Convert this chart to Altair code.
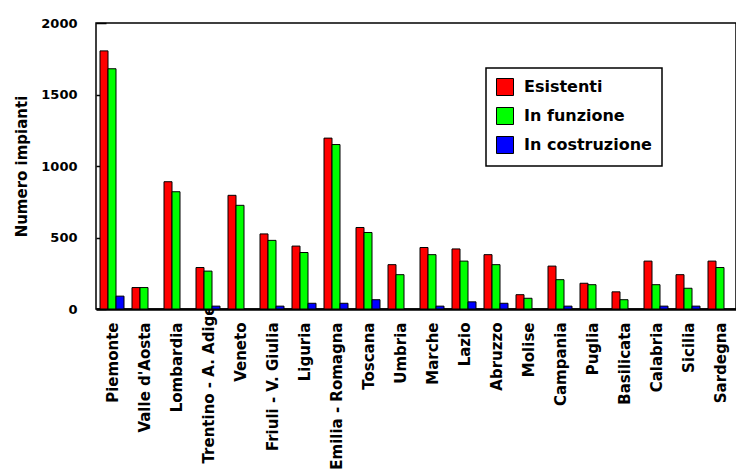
import altair as alt
import pandas as pd

regions = ["Piemonte", "Valle d'Aosta", "Lombardia", "Trentino - A. Adige", "Veneto",
           "Friuli - V. Giulia", "Liguria", "Emilia - Romagna", "Toscana", "Umbria",
           "Marche", "Lazio", "Abruzzo", "Molise", "Campania", "Puglia", "Basilicata",
           "Calabria", "Sicilia", "Sardegna"]
series = ["Esistenti", "In funzione", "In costruzione"]
colors = ["#FF0000", "#00FF00", "#0000FF"]

esistenti = [1805, 150, 890, 290, 795, 525, 440, 1195, 570, 310,
             430, 420, 380, 100, 300, 180, 120, 335, 240, 335]
in_funzione = [1680, 150, 820, 265, 725, 480, 395, 1150, 535, 240,
               380, 335, 310, 75, 205, 170, 65, 170, 145, 290]
in_costruzione = [90, 0, 0, 20, 0, 20, 40, 40, 65, 0,
                  20, 50, 40, 0, 20, 0, 0, 20, 20, 0]

y_ticks = [0, 500, 1000, 1500, 2000]

rows = []
for s, vals in zip(series, [esistenti, in_funzione, in_costruzione]):
    for r, v in zip(regions, vals):
        rows.append({"Regione": r, "Serie": s, "Valore": v})
df = pd.DataFrame(rows)

FONT = "DejaVu Sans"

chart = alt.Chart(df).transform_filter(
    "datum.Valore > 0"
).mark_bar(stroke="black", strokeWidth=1, opacity=1).encode(
    x=alt.X("Regione:N", sort=regions, title=None,
            scale=alt.Scale(domain=regions, paddingInner=0.25, paddingOuter=0.125),
            axis=alt.Axis(labelAngle=-90, labelAlign="right", labelBaseline="middle",
                          labelPadding=alt.expr("datum.value == 'Trentino - A. Adige' ? -4 : 13"),
                          ticks=False, domainWidth=2.5, domainColor="black",
                          labelFont=FONT, labelFontWeight="bold", labelFontSize=15,
                          labelColor="black", labelOffset=1, labelLimit=300)),
    xOffset=alt.XOffset("Serie:N", sort=series, scale=alt.Scale(domain=series, paddingInner=0)),
    y=alt.Y("Valore:Q", title="Numero impianti",
            scale=alt.Scale(domain=[0, 2000], nice=False),
            axis=alt.Axis(values=y_ticks, format="d", offset=-10, domain=False, grid=False,
                          tickSize=10, tickColor="black", tickWidth=1.5,
                          labelPadding=19, labelFont=FONT, labelFontWeight="bold",
                          labelFontSize=13, labelColor="black",
                          titleFont=FONT, titleFontWeight="bold", titleFontSize=15,
                          titleColor="black", titlePadding=11)),
    color=alt.Color("Serie:N", sort=series,
                    scale=alt.Scale(domain=series, range=colors),
                    legend=alt.Legend(title=None, orient="none", legendX=390, legendY=45,
                                      symbolType="square", symbolSize=289,
                                      symbolStrokeColor="black", symbolStrokeWidth=1,
                                      symbolOpacity=1,
                                      labelFont=FONT, labelFontWeight="bold",
                                      labelFontSize=16, labelColor="black",
                                      labelOffset=10, rowPadding=7, padding=10,
                                      strokeColor="black", fillColor="white")),
).properties(
    width=640, height=286,
    autosize=alt.AutoSizeParams(type="none"),
    padding={"left": 96, "top": 23, "right": 0, "bottom": 161},
).configure_view(
    stroke="black", strokeWidth=1.5
).configure_legend(
    strokeWidth=1.5
)

chart.save("out.html", embed_options={"renderer": "svg", "actions": False})
